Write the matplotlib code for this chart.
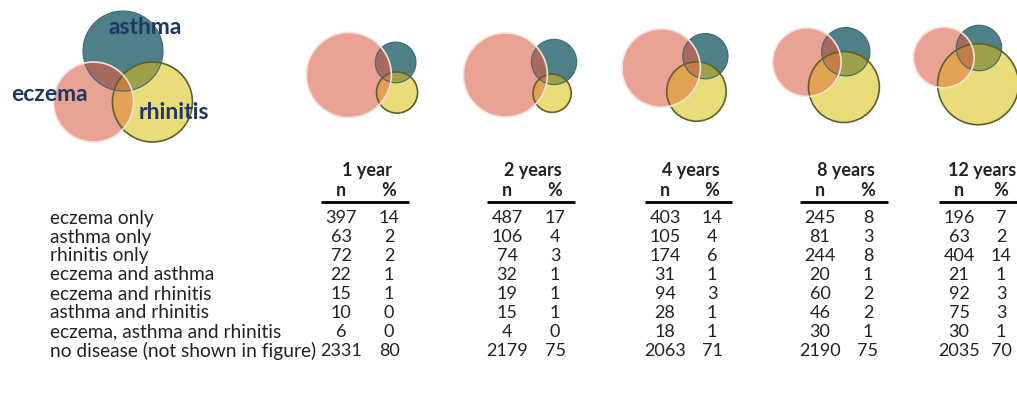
import numpy as np
import matplotlib
matplotlib.use("Agg")
import matplotlib.pyplot as plt
from matplotlib.patches import Circle, PathPatch
from matplotlib.path import Path

# ---- data -------------------------------------------------------------
ages = ["1 year", "2 years", "4 years", "8 years", "12 years"]

row_labels = [
    "eczema only",
    "asthma only",
    "rhinitis only",
    "eczema and asthma",
    "eczema and rhinitis",
    "asthma and rhinitis",
    "eczema, asthma and rhinitis",
    "no disease (not shown in figure)",
]

eczema_only_n = [397, 487, 403, 245, 196]
eczema_only_pct = [14, 17, 14, 8, 7]
asthma_only_n = [63, 106, 105, 81, 63]
asthma_only_pct = [2, 4, 4, 3, 2]
rhinitis_only_n = [72, 74, 174, 244, 404]
rhinitis_only_pct = [2, 3, 6, 8, 14]
eczema_asthma_n = [22, 32, 31, 20, 21]
eczema_asthma_pct = [1, 1, 1, 1, 1]
eczema_rhinitis_n = [15, 19, 94, 60, 92]
eczema_rhinitis_pct = [1, 1, 3, 2, 3]
asthma_rhinitis_n = [10, 15, 28, 46, 75]
asthma_rhinitis_pct = [0, 1, 1, 2, 3]
all_three_n = [6, 4, 18, 30, 30]
all_three_pct = [0, 0, 1, 1, 1]
no_disease_n = [2331, 2179, 2063, 2190, 2035]
no_disease_pct = [80, 75, 71, 75, 70]

# ---- layout / style -----------------------------------------------------
W, H = 1017, 417
n_x = [341, 507, 665, 820, 959]       # centre of the "n" column of each age block (px)
pct_x = [389, 555, 712, 868, 1001]    # centre of the "%" column
venn_x = [362, 520, 675, 826, 966]    # centre of each small diagram (px)
venn_y = 75
K = 49                                # union of circles ~ area of a circle of radius K
asthma_angle = np.radians(-15)

header_y, sub_y, rule_y = 170, 190, 202
row_y0, row_dy = 218, 19.0
label_x = 50
rule_pad = 20

C_E = "#E9A294"
C_A = "#4E8088"
C_R = "#E9DD7A"
C_EA = "#A86A5F"
C_AR = "#9CA14A"
C_ER = "#E2A153"
C_EAR = "#C47E45"
EDGE_R = "#5F5F2A"
EDGE_A = "#3F6A72"
EDGE_E = "#F6E2DC"
NAVY = "#1F3763"
TXT = "#222222"

plt.rcParams["font.family"] = ["Lato", "DejaVu Sans"]


def lens_area(r1, r2, d):
    if d >= r1 + r2:
        return 0.0
    if d <= abs(r1 - r2):
        return np.pi * min(r1, r2) ** 2
    a1 = r1 ** 2 * np.arccos((d * d + r1 * r1 - r2 * r2) / (2 * d * r1))
    a2 = r2 ** 2 * np.arccos((d * d + r2 * r2 - r1 * r1) / (2 * d * r2))
    a3 = 0.5 * np.sqrt((-d + r1 + r2) * (d + r1 - r2) * (d - r1 + r2) * (d + r1 + r2))
    return a1 + a2 - a3


def distance_for_overlap(r1, r2, area):
    lo, hi = abs(r1 - r2) + 1e-6, r1 + r2
    for _ in range(60):
        mid = 0.5 * (lo + hi)
        if lens_area(r1, r2, mid) > area:
            lo = mid
        else:
            hi = mid
    return 0.5 * (lo + hi)


def venn_layout(i):
    e, a, r = eczema_only_n[i], asthma_only_n[i], rhinitis_only_n[i]
    ea, er, ar, ear = eczema_asthma_n[i], eczema_rhinitis_n[i], asthma_rhinitis_n[i], all_three_n[i]
    unit = np.pi * K ** 2 / (e + a + r + ea + er + ar + ear)
    rE = np.sqrt((e + ea + er + ear) * unit / np.pi)
    rA = np.sqrt((a + ea + ar + ear) * unit / np.pi)
    rR = np.sqrt((r + er + ar + ear) * unit / np.pi)
    dEA = distance_for_overlap(rE, rA, (ea + ear) * unit)
    dER = distance_for_overlap(rE, rR, (er + ear) * unit)
    dAR = distance_for_overlap(rA, rR, (ar + ear) * unit)
    cphi = np.clip((dEA ** 2 + dER ** 2 - dAR ** 2) / (2 * dEA * dER), -1, 1)
    phi = np.arccos(cphi)
    cE = np.array([0.0, 0.0])
    cA = dEA * np.array([np.cos(asthma_angle), np.sin(asthma_angle)])
    cR = dER * np.array([np.cos(asthma_angle + phi), np.sin(asthma_angle + phi)])
    cs = np.array([cE, cA, cR])
    rs = np.array([rE, rA, rR])
    xmin, xmax = (cs[:, 0] - rs).min(), (cs[:, 0] + rs).max()
    ymin, ymax = (cs[:, 1] - rs).min(), (cs[:, 1] + rs).max()
    shift = np.array([venn_x[i] - (xmin + xmax) / 2, venn_y - (ymin + ymax) / 2])
    return cs + shift, rs


def lens_path(c1, r1, c2, r2):
    t = np.linspace(0, 2 * np.pi, 400, endpoint=False)
    p1 = c1 + r1 * np.c_[np.cos(t), np.sin(t)]
    p2 = c2 + r2 * np.c_[np.cos(t), np.sin(t)]
    pts = np.vstack([p1[np.linalg.norm(p1 - c2, axis=1) <= r2],
                     p2[np.linalg.norm(p2 - c1, axis=1) <= r1]])
    if len(pts) < 3:
        return None
    m = pts.mean(axis=0)
    pts = pts[np.argsort(np.arctan2(pts[:, 1] - m[1], pts[:, 0] - m[0]))]
    return Path(np.vstack([pts, pts[:1]]), closed=True)


def draw_venn(ax, cs, rs):
    (cE, cA, cR), (rE, rA, rR) = cs, rs
    circE = Circle(cE, rE, transform=ax.transData)
    circA = Circle(cA, rA, transform=ax.transData)
    ax.add_patch(Circle(cE, rE, fc=C_E, ec="none", zorder=2))
    ax.add_patch(Circle(cA, rA, fc=C_A, ec="none", zorder=2))
    ax.add_patch(Circle(cR, rR, fc=C_R, ec="none", zorder=2))
    for c, r, col, clip in [(cA, rA, C_EA, circE), (cR, rR, C_ER, circE), (cR, rR, C_AR, circA)]:
        p = Circle(c, r, fc=col, ec="none", zorder=3)
        ax.add_patch(p)
        p.set_clip_path(clip)
    lp = lens_path(cE, rE, cA, rA)
    if lp is not None:
        lens = PathPatch(lp, transform=ax.transData)
        p = Circle(cR, rR, fc=C_EAR, ec="none", zorder=4)
        ax.add_patch(p)
        p.set_clip_path(lens)
    ax.add_patch(Circle(cA, rA, fc="none", ec=EDGE_A, lw=0.8, zorder=5))
    ax.add_patch(Circle(cR, rR, fc="none", ec=EDGE_R, lw=1.2, zorder=5))
    ax.add_patch(Circle(cE, rE, fc="none", ec=EDGE_E, lw=1.2, zorder=6))


fig = plt.figure(figsize=(W / 100, H / 100), dpi=100)
ax = fig.add_axes([0, 0, 1, 1])
ax.set_xlim(0, W)
ax.set_ylim(H, 0)
ax.axis("off")

# key diagram (schematic, equal circles)
key_c, key_r, key_spread = np.array([123.0, 85.0]), 40, 34
key_angles = np.radians([150, -90, 30])  # eczema, asthma, rhinitis
key_cs = np.array([key_c + key_spread * np.array([np.cos(t), np.sin(t)]) for t in key_angles])
draw_venn(ax, key_cs, np.array([key_r, key_r, key_r]))
key_fs = 16.5
ax.text(145, 27, "asthma", color=NAVY, fontsize=key_fs, fontweight="bold", ha="center", va="center", zorder=10)
ax.text(50, 94, "eczema", color=NAVY, fontsize=key_fs, fontweight="bold", ha="center", va="center", zorder=10)
ax.text(174, 112, "rhinitis", color=NAVY, fontsize=key_fs, fontweight="bold", ha="center", va="center", zorder=10)

for i in range(len(ages)):
    cs, rs = venn_layout(i)
    draw_venn(ax, cs, rs)

# table
ns = [eczema_only_n, asthma_only_n, rhinitis_only_n, eczema_asthma_n,
      eczema_rhinitis_n, asthma_rhinitis_n, all_three_n, no_disease_n]
pcts = [eczema_only_pct, asthma_only_pct, rhinitis_only_pct, eczema_asthma_pct,
        eczema_rhinitis_pct, asthma_rhinitis_pct, all_three_pct, no_disease_pct]

fs = 13.8
fs_num = 13.0
for j, lab in enumerate(row_labels):
    ax.text(label_x, row_y0 + j * row_dy, lab, fontsize=fs, color=TXT, ha="left", va="center")

for i, age in enumerate(ages):
    nx, px = n_x[i], pct_x[i]
    ax.text((nx + px) / 2 + 2, header_y, age, fontsize=fs_num, fontweight="bold", color=TXT, ha="center", va="center")
    ax.text(nx, sub_y, "n", fontsize=fs_num, fontweight="bold", color=TXT, ha="center", va="center")
    ax.text(px, sub_y, "%", fontsize=fs_num, fontweight="bold", color=TXT, ha="center", va="center")
    ax.plot([nx - rule_pad, min(px + rule_pad, W)], [rule_y, rule_y], color="black", lw=2, solid_capstyle="butt")
    for j in range(len(row_labels)):
        y = row_y0 + j * row_dy
        ax.text(nx, y, str(ns[j][i]), fontsize=fs_num, color=TXT, ha="center", va="center")
        ax.text(px, y, str(pcts[j][i]), fontsize=fs_num, color=TXT, ha="center", va="center")

fig.savefig("out.png", dpi=100)
